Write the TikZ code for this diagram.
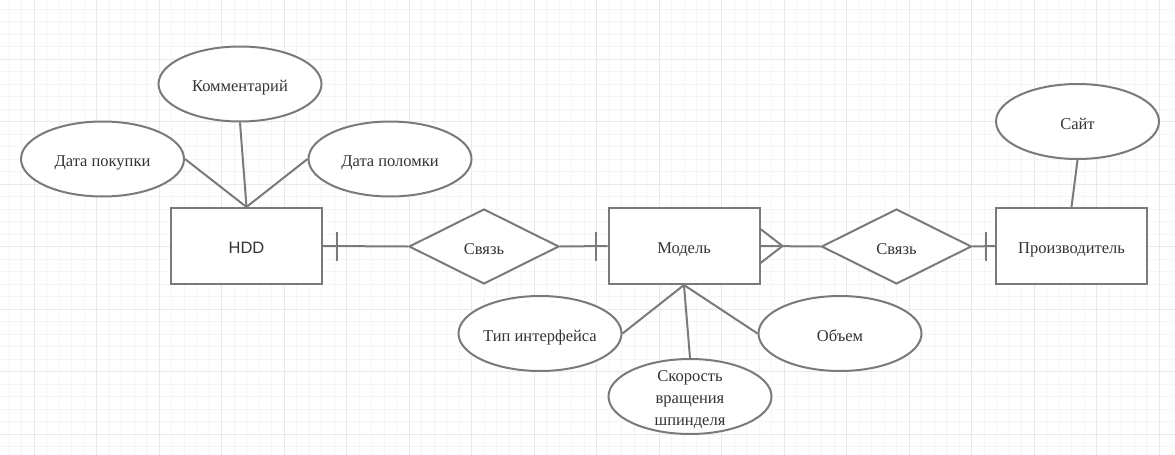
\documentclass[tikz,border=0pt]{standalone}
\usepackage{fontspec}
\setmainfont{Liberation Serif}
\newfontfamily\hddfont{Liberation Sans}
\usetikzlibrary{shapes.geometric}

\definecolor{linegray}{HTML}{7A7A7A}
\definecolor{textgray}{HTML}{333333}
\definecolor{minorgrid}{HTML}{F5F5F5}
\definecolor{majorgrid}{HTML}{E9E9E9}

\tikzset{
  entity/.style={draw=linegray,line width=2pt,fill=white,minimum width=151pt,
    minimum height=76pt,inner sep=0pt,text=textgray,text height=15pt,text depth=0pt,
    font=\fontsize{16.5}{20}\selectfont},
  relation/.style={diamond,draw=linegray,line width=2pt,fill=white,minimum width=150pt,
    minimum height=75pt,inner sep=0pt,text=textgray,text height=15pt,text depth=0pt,
    font=\fontsize{16.5}{20}\selectfont},
  attr/.style={ellipse,draw=linegray,line width=2pt,fill=white,minimum width=163pt,
    minimum height=75pt,inner sep=0pt,text=textgray,text height=15pt,text depth=0pt,
    font=\fontsize{16.5}{20}\selectfont},
  conn/.style={draw=linegray,line width=2pt}
}

\begin{document}
\begin{tikzpicture}
        [x=1pt,y=-1pt]
        \useasboundingbox (0,0) rectangle (1175,455);
        \fill[white] (0,0) rectangle (1175,455);

        % grid
        \foreach \i in {0,...,93}
          \draw[minorgrid,line width=1pt] ({9+12.5*\i},0) -- ({9+12.5*\i},455);
        \foreach \i in {0,...,36}
          \draw[minorgrid,line width=1pt] (0,{9.3+12.5*\i}) -- (1175,{9.3+12.5*\i});
        \foreach \i in {0,...,18}
          \draw[majorgrid,line width=1pt] ({34+62.5*\i},0) -- ({34+62.5*\i},455);
        \foreach \i in {0,...,6}
          \draw[majorgrid,line width=1pt] (0,{59.3+62.5*\i}) -- (1175,{59.3+62.5*\i});

        \node[entity,font=\hddfont\fontsize{16.5}{20}\selectfont] (hdd) at (246.5,246) {HDD};
        \node[entity] (model) at (684,246) {Модель};
        \node[entity] (maker) at (1071.5,246) {Производитель};

        \node[relation] (rel1) at (484,246.5) {Связь};
        \node[relation] (rel2) at (896.5,246.5) {Связь};

        \node[attr] (comment) at (240,84) {Комментарий};
        \node[attr] (buydate) at (102.5,159) {Дата покупки};
        \node[attr] (faildate) at (390,159) {Дата поломки};
        \node[attr] (site) at (1077.5,121.5) {Сайт};
        \node[attr] (iface) at (540,333.5) {Тип интерфейса};
        \node[attr,label={[text=textgray,align=center,yshift=-3pt,
            font=\fontsize{16.5}{22}\selectfont]center:Скорость\\вращения\\шпинделя}]
          (speed) at (690,396.5) {};
        \node[attr] (volume) at (840,333.5) {Объем};

        \draw[conn] (buydate.east) -- (hdd.north);
        \draw[conn] (comment.south) -- (hdd.north);
        \draw[conn] (faildate.west) -- (hdd.north);

        \draw[conn] (iface.east) -- (model.south);
        \draw[conn] (speed.north) -- (model.south);
        \draw[conn] (volume.west) -- (model.south);

        \draw[conn] (site.south) -- (maker.north);

        \draw[conn] (hdd.east) -- (rel1.west);
        \draw[conn] ([xshift=14pt]hdd.east) ++(0,-14.5) -- ++(0,29);
        \draw[conn] (rel1.east) -- (model.west);
        \draw[conn] ([xshift=-12pt]model.west) ++(0,-14.5) -- ++(0,29);

        \draw[conn] (model.east) -- (rel2.west);
        \draw[conn] ([yshift=-17pt]model.east) -- ([xshift=22pt]model.east)
          -- ([yshift=17pt]model.east);
        \draw[conn] (rel2.east) -- (maker.west);
        \draw[conn] ([xshift=-9pt]maker.west) ++(0,-14.5) -- ++(0,29);
      \end{tikzpicture}
\end{document}
